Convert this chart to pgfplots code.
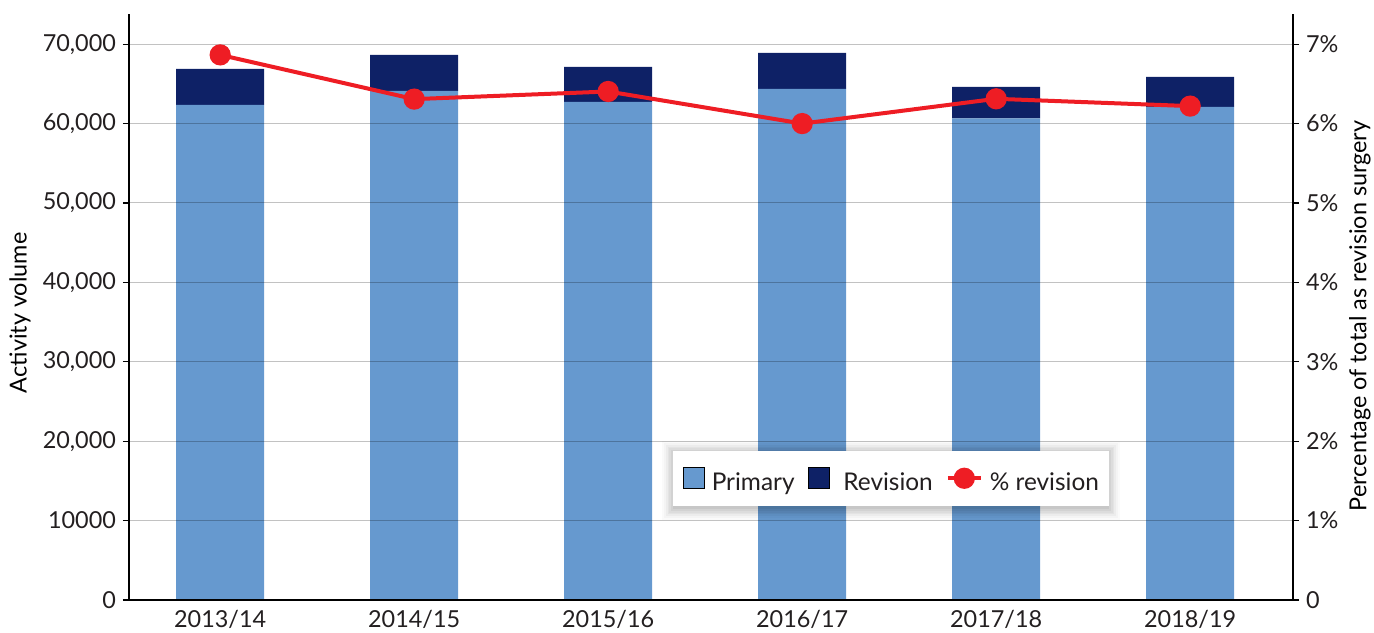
\documentclass[border=0pt]{standalone}
\usepackage{fontspec}
\setmainfont{Lato}
\usepackage{pgfplots}
\pgfplotsset{compat=1.18}
\definecolor{prim}{RGB}{102,153,207}
\definecolor{rev}{RGB}{14,33,102}
\definecolor{redl}{RGB}{238,29,36}
\definecolor{txt}{RGB}{35,31,32}
\newcommand\fs{\fontsize{11.7pt}{14pt}\selectfont}
\pgfplotsset{
  sqleg/.style={legend image code/.code={\fill[##1] (0pt,-3.6pt) rectangle (10.5pt,7pt);}},
  lnleg/.style={legend image code/.code={\draw[mark repeat=2,mark phase=2,##1] plot coordinates {(0pt,1.5pt) (8.25pt,1.5pt) (16.5pt,1.5pt)};}},
  common/.style={
    at={(0pt,0pt)}, anchor=south west, scale only axis,
    width=582pt, height=293pt,
    xmin=-0.47, xmax=5.53,
    tick align=outside, major tick length=3pt,
    tick style={black, line width=0.6pt},
    every tick label/.append style={text=txt},
    label style={text=txt},
    scaled y ticks=false,
  }
}
\begin{document}
\begin{tikzpicture}[font=\fs]
\path[use as bounding box] (-64.5pt,-16pt) rectangle (622.5pt,300pt);
\begin{axis}[common,
  ybar stacked, bar width=44pt,
  ymin=0, ymax=73800,
  xtick={0,1,2,3,4,5},
  xticklabels={2013/14,2014/15,2015/16,2016/17,2017/18,2018/19},
  xtick style={draw=none},
  xticklabel style={yshift=1.2pt},
  ytick={0,10000,20000,30000,40000,50000,60000,70000},
  yticklabels={0,10000,{20,000},{30,000},{40,000},{50,000},{60,000},{70,000}},
  axis x line*=bottom, axis y line*=left,
  x axis line style={-, line width=1.4pt, black},
  y axis line style={-, line width=1pt, black},
  ymajorgrids, major grid style={black, opacity=0.24, line width=0.5pt},
  axis on top,
  ylabel={Activity volume},
  every axis y label/.style={at={(axis description cs:0,0.49)}, xshift=-54.5pt, rotate=90, anchor=center},
]
\addplot[fill=prim, draw=none] coordinates {(0,62366) (1,64127) (2,62744) (3,64378) (4,60644) (5,62115)};
\addplot[fill=rev, draw=none] coordinates {(0,4527) (1,4526) (2,4400) (3,4527) (4,3986) (5,3772)};
\end{axis}
\begin{axis}[common,
  ymin=0, ymax=7.38,
  axis x line=none, axis y line*=right,
  y axis line style={-, line width=1pt, black},
  ytick={0,1,2,3,4,5,6,7},
  yticklabels={0,1\%,2\%,3\%,4\%,5\%,6\%,7\%},
  ylabel={Percentage of total as revision surgery},
  every axis y label/.style={at={(axis description cs:1,0.485)}, xshift=33.5pt, rotate=90, anchor=center},
  legend columns=3,
  legend style={at={(0.6546,0.2073)}, anchor=center, draw=none, fill=white,
    inner xsep=0pt, inner ysep=0pt, text=txt, font=\fontsize{12.2pt}{14pt}\selectfont,
    /tikz/every odd column/.append style={column sep=3.5pt},
    /tikz/every even column/.append style={column sep=6.5pt},
    /tikz/column 3/.append style={column sep=7pt},
    /tikz/column 4/.append style={column sep=8pt},
    /tikz/column 5/.append style={column sep=1.5pt},
    nodes={inner sep=0pt, text depth=0pt},
    row sep=0pt},
]
\foreach \k/\o in {0/0.05,1/0.045,2/0.04,3/0.035,4/0.03,5/0.025,6/0.02}{
  \edef\tmp{\noexpand\fill[black, opacity=\o]
    ([xshift={272pt-\k*0.9pt}, yshift={47pt-1.5pt-\k*0.9pt}]rel axis cs:0,0)
    rectangle ([xshift={490pt+\k*0.9pt}, yshift={74.5pt-0.5pt+\k*0.9pt}]rel axis cs:0,0);}
  \tmp
}
\fill[white] ([xshift=272pt, yshift=47pt]rel axis cs:0,0) rectangle ([xshift=490pt, yshift=74.5pt]rel axis cs:0,0);
\addlegendimage{sqleg, fill=prim}
\addlegendentry{Primary}
\addlegendimage{sqleg, fill=rev}
\addlegendentry{\hspace{3.5pt}Revision}
\addplot[lnleg, redl, line width=2pt, mark=*, mark size=4.3pt, mark options={fill=redl, draw=redl}]
  coordinates {(0,6.865) (1,6.308) (2,6.404) (3,6.0) (4,6.312) (5,6.22)};
\addlegendentry{\% revision}
\end{axis}
\end{tikzpicture}
\end{document}
